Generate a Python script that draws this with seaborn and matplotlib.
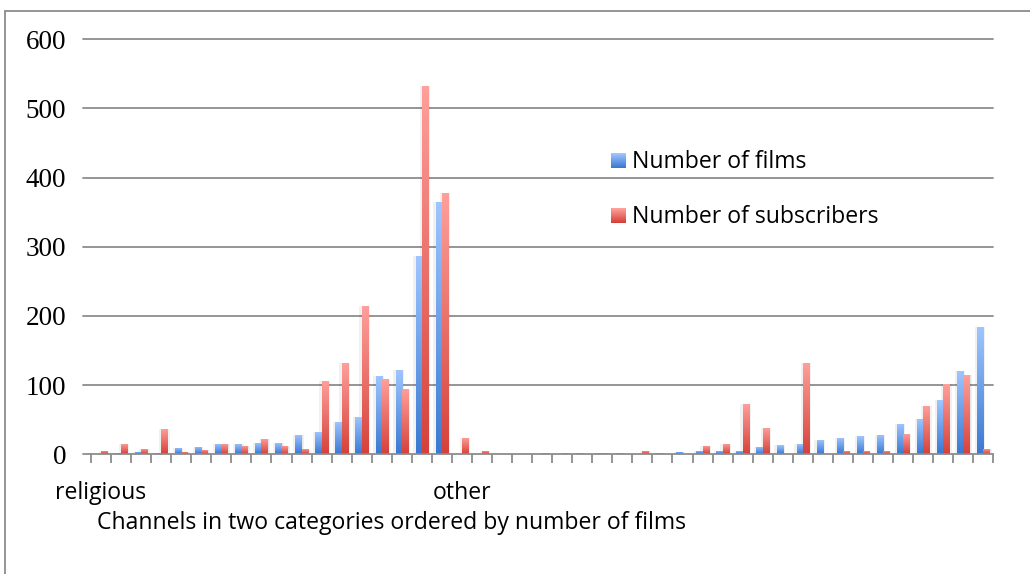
import numpy as np
import pandas as pd
import matplotlib
matplotlib.use("Agg")
import matplotlib.pyplot as plt
import seaborn as sns
from matplotlib.colors import LinearSegmentedColormap
from matplotlib.patches import Rectangle
from matplotlib.lines import Line2D
from matplotlib import patheffects as pe

# Channels, religious group first, then the rest; each group ordered by films
channel_labels = ["religious"] + [""] * 17 + ["other"] + [""] * 26

films = [0, 2, 3, 2, 9, 11, 15, 15, 16, 17, 28, 32, 47, 54, 113, 122, 287, 365,
         0, 0, 0, 0, 0, 0, 2, 2, 2, 1, 2, 3, 5, 5, 5, 11, 13, 15, 21, 24, 26, 28,
         44, 51, 78, 120, 184]
subscribers = [5, 15, 8, 37, 4, 6, 15, 12, 22, 12, 8, 106, 132, 214, 109, 95, 532, 378,
               24, 5, 0, 1, 2, 2, 0, 2, 0, 5, 1, 0, 12, 15, 73, 38, 0, 132, 0, 5, 5, 5,
               29, 70, 101, 114, 8]

series_names = ["Number of films", "Number of subscribers"]
y_ticks = [0, 100, 200, 300, 400, 500, 600]
x_title = "Channels in two categories ordered by number of films"

# bar fills: (bottom, top) of each vertical gradient and a flat middle tone
ramp_colors = {
    series_names[0]: ("#3979D2", "#A0C6FF"),
    series_names[1]: ("#D5413A", "#FFA09B"),
}
mid_colors = {series_names[0]: "#6A9FEA", series_names[1]: "#EE6E67"}

GRID = "#8C8C8C"
W, H = 1030, 574
PX = 72 / 100  # points per pixel
AX_W = 993.3 - 91

sns.set_theme(style="white")
plt.rcParams["font.family"] = ["Open Sans", "DejaVu Sans"]
SANS_PT = 16.6

fig = plt.figure(figsize=(W / 100, H / 100), dpi=100)
fig.patch.set_facecolor("white")
ax = fig.add_axes([91 / W, 1 - 454.3 / H, AX_W / W, (454.3 - 39.3) / H])

n = len(channel_labels)
df = pd.DataFrame({
    "channel": np.tile(np.arange(n), 2),
    "value": films + subscribers,
    "series": np.repeat(series_names, n),
})

sns.barplot(data=df, x="channel", y="value", hue="series", hue_order=series_names,
            palette=mid_colors, width=0.62, gap=0, dodge=True, legend=False,
            saturation=1, linewidth=0, ax=ax, zorder=3)

# vertical gradient inside each bar, plus a soft side shadow
grad = np.linspace(0, 1, 256).reshape(-1, 1)
cmaps = {k: LinearSegmentedColormap.from_list(k, list(v)) for k, v in ramp_colors.items()}
shadow = [pe.SimplePatchShadow(offset=(2.2 * PX, 0), shadow_rgbFace="k", alpha=0.06),
          pe.SimplePatchShadow(offset=(-2.2 * PX, 0), shadow_rgbFace="k", alpha=0.06),
          pe.SimplePatchShadow(offset=(1.1 * PX, 0), shadow_rgbFace="k", alpha=0.06),
          pe.Normal()]
for container, name in zip(ax.containers, series_names):
    for bar in container:
        h = bar.get_height()
        if h <= 0:
            continue
        bar.set_path_effects(shadow)
        x0, w = bar.get_x(), bar.get_width()
        im = ax.imshow(grad, extent=[x0, x0 + w, 0, h], origin="lower", aspect="auto",
                       cmap=cmaps[name], interpolation="bilinear", zorder=3.1)
        im.set_clip_path(bar)

ax.set_xlim(-0.5, n - 0.5)
ax.set_ylim(0, 600)

# axes styling
for s in ("left", "right", "top"):
    ax.spines[s].set_visible(False)
ax.spines["bottom"].set_color(GRID)
ax.spines["bottom"].set_linewidth(1.3)
ax.spines["bottom"].set_zorder(4)
ax.grid(False)

# horizontal gridlines, each poking out a little to the left of the plot
for yv in y_ticks[1:]:
    ax.axhline(yv, xmin=-8 / AX_W, xmax=1, color=GRID, linewidth=1.3,
               clip_on=False, zorder=0.5)
ax.axhline(0, xmin=-8 / AX_W, xmax=0, color=GRID, linewidth=1.3, clip_on=False, zorder=4)

ax.set_yticks(y_ticks)
ax.tick_params(axis="y", length=0, pad=25 * PX, labelsize=19.5, labelcolor="black")
for lbl in ax.get_yticklabels():
    lbl.set_fontfamily(["Liberation Serif", "DejaVu Serif"])

ax.set_xticks(np.arange(n), channel_labels)
ax.set_xticks(np.arange(-0.5, n), minor=True)
ax.tick_params(axis="x", which="major", length=0, pad=26.5 * PX, labelsize=SANS_PT,
               labelcolor="black", bottom=True)
ax.tick_params(axis="x", which="minor", length=9 * PX, width=1.3, color=GRID,
               direction="out", bottom=True)

ax.set_ylabel("")
ax.set_xlabel(x_title, fontsize=SANS_PT, color="black", ha="left", va="top")
ax.xaxis.set_label_coords(0.0066, -0.1375)

# legend
F_px = SANS_PT / PX
handles = [Rectangle((0, 0), 1, 1, facecolor=mid_colors[k], linewidth=0) for k in series_names]
leg = ax.legend(handles, series_names, loc="upper left",
                bbox_to_anchor=(611 / W, 1 - 150.5 / H), bbox_transform=fig.transFigure,
                frameon=False, borderpad=0, borderaxespad=0, fontsize=SANS_PT,
                handlelength=15 / F_px, handleheight=15 / F_px,
                handletextpad=6 / F_px, labelspacing=1.33)
for t in leg.get_texts():
    t.set_color("black")

# frame edges on the left and top
fig.add_artist(Line2D([5.2 / W, 1], [1 - 10.5 / H] * 2, transform=fig.transFigure,
                      color=GRID, linewidth=1.3))
fig.add_artist(Line2D([5.2 / W] * 2, [0, 1 - 10.5 / H], transform=fig.transFigure,
                      color=GRID, linewidth=1.3))

# gradient fill for the legend keys
fig.canvas.draw()
for patch, name in zip(leg.get_patches(), series_names):
    bb = patch.get_window_extent()
    hpx = max(int(round(bb.height)), 1)
    wpx = max(int(round(bb.width)), 1)
    col = cmaps[name](np.linspace(1, 0, hpx))[:, :3]
    img = np.repeat(col[:, None, :], wpx, axis=1)
    fig.figimage(img, xo=int(round(bb.x0)), yo=int(round(bb.y0)), origin="upper", zorder=10)
    patch.set_visible(False)

fig.savefig("out.png", dpi=100)
